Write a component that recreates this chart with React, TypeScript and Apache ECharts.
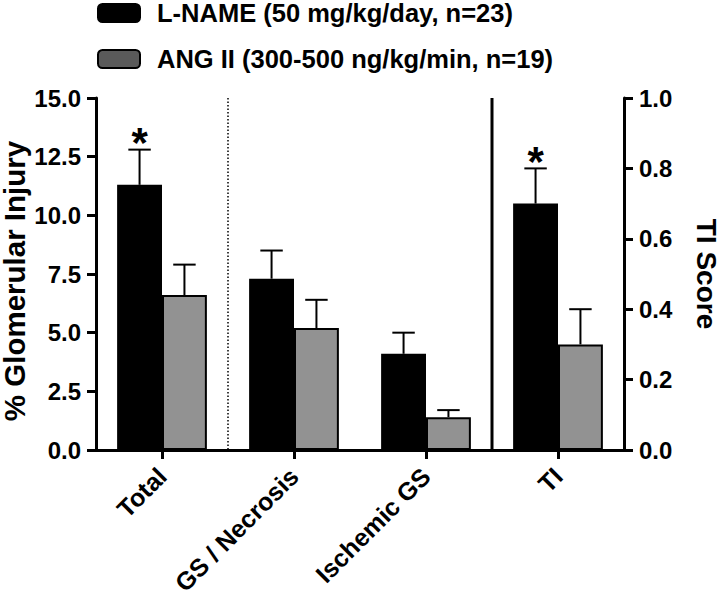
import React, { useEffect, useRef } from "react";
import * as echarts from "echarts";

const categories = ["Total", "GS / Necrosis", "Ischemic GS", "TI"];
const seriesNames = ["L-NAME (50 mg/kg/day, n=23)", "ANG II (300-500 ng/kg/min, n=19)"];

// % glomerular injury (left axis)
const lnameGlom = [11.3, 7.3, 4.1];
const lnameGlomSem = [1.5, 1.2, 0.9];
const angGlom = [6.6, 5.2, 1.4];
const angGlomSem = [1.3, 1.2, 0.3];

// TI score (right axis)
const lnameTi = 0.7;
const lnameTiSem = 0.1;
const angTi = 0.3;
const angTiSem = 0.1;

// significance markers (L-NAME vs ANG II)
const lnameSig = [1, 0, 0, 1];

// separators drawn after category index
const separatorAfter = [0, 2];
const separatorKind = ["dotted", "solid"];

const leftTicks = { min: 0, max: 15, interval: 2.5 };
const rightTicks = { min: 0, max: 1, interval: 0.2 };

const FONT = "Liberation Sans";
const CAT_GAP = 0.32;

function errorRender(params: any, api: any) {
  const cat = api.value(0);
  const g = api.value(1);
  const mean = api.value(2);
  const sem = api.value(3);
  const sig = api.value(4);
  const band = api.size([1, 0])[0];
  const barW = (band * (1 - CAT_GAP)) / 2;
  const center = api.coord([cat, 0])[0];
  const x = center + (g === 0 ? -barW / 2 : barW / 2);
  const yMean = api.coord([cat, mean])[1];
  const yTop = api.coord([cat, mean + sem])[1];
  const children: any[] = [
    {
      type: "line",
      shape: { x1: x, y1: yMean, x2: x, y2: yTop },
      style: { stroke: "#000", lineWidth: 2 },
    },
    {
      type: "line",
      shape: { x1: x - barW / 4, y1: yTop, x2: x + barW / 4, y2: yTop },
      style: { stroke: "#000", lineWidth: 2 },
    },
  ];
  if (sig) {
    children.push({
      type: "text",
      x: x,
      y: yTop - 7,
      style: {
        text: "*",
        fill: "#000",
        font: `bold 42px "${FONT}"`,
        align: "center",
        verticalAlign: "middle",
      },
    });
  }
  return { type: "group", children };
}

function separatorRender(params: any, api: any) {
  const idx = api.value(0);
  const kind = separatorKind[params.dataIndex];
  const band = api.size([1, 0])[0];
  const x = api.coord([idx, 0])[0] + band / 2;
  const cs = params.coordSys;
  return {
    type: "line",
    shape: { x1: x, y1: cs.y, x2: x, y2: cs.y + cs.height },
    style:
      kind === "dotted"
        ? { stroke: "#000", lineWidth: 1.5, lineDash: [1.5, 2] }
        : { stroke: "#000", lineWidth: 3 },
  };
}

export default function App() {
  const ref = useRef<HTMLDivElement>(null);
  useEffect(() => {
    if (!ref.current) return;
    const chart = echarts.init(ref.current, undefined, { renderer: "svg" });

    const glomErr: any[] = [];
    lnameGlom.forEach((v, i) => glomErr.push([i, 0, v, lnameGlomSem[i], lnameSig[i]]));
    angGlom.forEach((v, i) => glomErr.push([i, 1, v, angGlomSem[i], 0]));
    const tiErr = [
      [3, 0, lnameTi, lnameTiSem, lnameSig[3]],
      [3, 1, angTi, angTiSem, 0],
    ];

    const axisText = { color: "#000", fontFamily: FONT, fontWeight: "bold" as const };

    chart.setOption({
      animation: false,
      backgroundColor: "#fff",
      textStyle: { fontFamily: FONT },
      legend: {
        orient: "vertical",
        left: 97,
        top: 0,
        padding: 0,
        icon: "roundRect",
        itemWidth: 42,
        itemHeight: 18,
        itemGap: 20,
        selectedMode: false,
        textStyle: {
          ...axisText,
          fontSize: 25.5,
          lineHeight: 24,
          padding: [0, 0, 0, 12],
        },
        data: [
          { name: seriesNames[0], itemStyle: { color: "#000", borderColor: "#000", borderWidth: 2 } },
          { name: seriesNames[1], itemStyle: { color: "#5a5a5a", borderColor: "#000", borderWidth: 2 } },
        ],
      },
      grid: {
        left: 96,
        right: 96,
        top: 98,
        bottom: 150,
        containLabel: false,
        outerBoundsMode: "none",
      },
      xAxis: {
        type: "category",
        data: categories,
        axisLine: { show: true, lineStyle: { color: "#000", width: 3 } },
        axisTick: { show: true, alignWithLabel: true, length: 9, lineStyle: { color: "#000", width: 3 } },
        axisLabel: { ...axisText, fontSize: 25, rotate: 45, margin: 22, interval: 0 },
      },
      yAxis: [
        {
          type: "value",
          position: "left",
          min: leftTicks.min,
          max: leftTicks.max,
          interval: leftTicks.interval,
          name: "% Glomerular Injury",
          nameLocation: "middle",
          nameGap: 67,
          nameMoveOverlap: false,
          nameTextStyle: { ...axisText, fontSize: 29.5, lineHeight: 30, padding: [0, 14, 0, 0] },
          axisLine: { show: true, lineStyle: { color: "#000", width: 3 } },
          axisTick: { show: true, length: 9, lineStyle: { color: "#000", width: 3 } },
          axisLabel: { ...axisText, fontSize: 24, margin: 15, formatter: (v: number) => v.toFixed(1) },
          splitLine: { show: false },
        },
        {
          type: "value",
          position: "right",
          min: rightTicks.min,
          max: rightTicks.max,
          interval: rightTicks.interval,
          name: "TI Score",
          nameLocation: "middle",
          nameRotate: -90,
          nameGap: 68,
          nameMoveOverlap: false,
          nameTextStyle: { ...axisText, fontSize: 28 },
          axisLine: { show: true, lineStyle: { color: "#000", width: 3 } },
          axisTick: { show: true, length: 9, lineStyle: { color: "#000", width: 3 } },
          axisLabel: { ...axisText, fontSize: 24, margin: 15, formatter: (v: number) => v.toFixed(1) },
          splitLine: { show: false },
        },
      ],
      series: [
        {
          name: seriesNames[0],
          type: "bar",
          stack: "lname",
          yAxisIndex: 0,
          barGap: "0%",
          barCategoryGap: `${CAT_GAP * 100}%`,
          itemStyle: { color: "#000", borderColor: "#000", borderWidth: 2 },
          data: [...lnameGlom, "-"],
        },
        {
          name: seriesNames[1],
          type: "bar",
          stack: "ang",
          yAxisIndex: 0,
          barGap: "0%",
          barCategoryGap: `${CAT_GAP * 100}%`,
          itemStyle: { color: "#929292", borderColor: "#000", borderWidth: 2 },
          data: [...angGlom, "-"],
        },
        {
          name: seriesNames[0],
          type: "bar",
          stack: "lname",
          yAxisIndex: 1,
          itemStyle: { color: "#000", borderColor: "#000", borderWidth: 2 },
          data: ["-", "-", "-", lnameTi],
        },
        {
          name: seriesNames[1],
          type: "bar",
          stack: "ang",
          yAxisIndex: 1,
          itemStyle: { color: "#929292", borderColor: "#000", borderWidth: 2 },
          data: ["-", "-", "-", angTi],
        },
        {
          type: "custom",
          name: "errGlom",
          yAxisIndex: 0,
          renderItem: errorRender,
          encode: { x: 0, y: 2 },
          data: glomErr,
          z: 5,
          clip: false,
        },
        {
          type: "custom",
          name: "errTi",
          yAxisIndex: 1,
          renderItem: errorRender,
          encode: { x: 0, y: 2 },
          data: tiErr,
          z: 5,
          clip: false,
        },
        {
          type: "custom",
          name: "separators",
          yAxisIndex: 0,
          renderItem: separatorRender,
          encode: { x: 0, y: 1 },
          data: separatorAfter.map((i) => [i, 0]),
          z: 4,
          clip: false,
        },
      ],
    });
    return () => chart.dispose();
  }, []);
  return (
    <div
      ref={ref}
      style={{ position: "fixed", left: 0, top: 0, width: 720, height: 600, background: "#fff" }}
    />
  );
}
